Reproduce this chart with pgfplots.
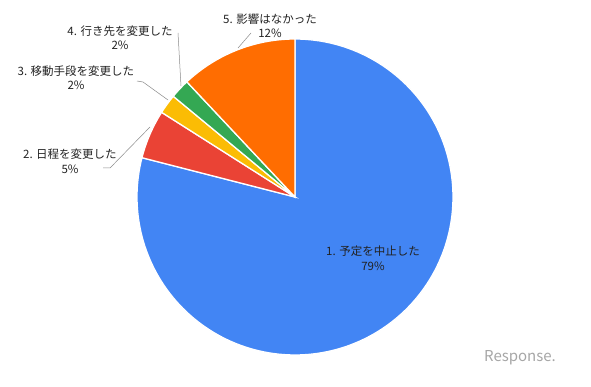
\documentclass[border=0pt]{standalone}
\usepackage{pgfplots}
\pgfplotsset{compat=1.18}
\usepackage{fontspec}
\setmainfont{Noto Sans CJK JP}
\definecolor{cblue}{HTML}{4285F4}
\definecolor{cred}{HTML}{EA4335}
\definecolor{cyellow}{HTML}{FBBC04}
\definecolor{cgreen}{HTML}{34A853}
\definecolor{corange}{HTML}{FF6D01}
\definecolor{ctext}{HTML}{222222}
\definecolor{cline}{HTML}{8A8A8A}
% shares (percent), clockwise from 12 o'clock
\def\vA{79}\def\vB{5}\def\vC{2}\def\vD{2}\def\vE{12}
\pgfmathsetmacro\aA{90}
\pgfmathsetmacro\aB{\aA-3.6*\vA}
\pgfmathsetmacro\aC{\aB-3.6*\vB}
\pgfmathsetmacro\aD{\aC-3.6*\vC}
\pgfmathsetmacro\aE{\aD-3.6*\vD}
\pgfmathsetmacro\aF{\aE-3.6*\vE}
\tikzset{lab/.style={font=\fontsize{11.5}{14.5}\selectfont, text=ctext, align=center}}
\begin{document}
\begin{tikzpicture}
\begin{axis}[
  scale only axis, width=591pt, height=386pt,
  xmin=-295, xmax=296, ymin=-189, ymax=197,
  hide axis, clip=false,
]
\pgfplotsset{slice/.style={draw=white, line width=1.3pt, samples=160, variable=\t}}
\addplot[draw=none] coordinates {(-295,-189) (296,197)};
\addplot[slice, fill=cblue, domain=\aB:\aA] ({158*cos(t)},{158*sin(t)}) -- (axis cs:0,0) -- cycle;
\addplot[slice, fill=cred, domain=\aC:\aB] ({158*cos(t)},{158*sin(t)}) -- (axis cs:0,0) -- cycle;
\addplot[slice, fill=cyellow, domain=\aD:\aC] ({158*cos(t)},{158*sin(t)}) -- (axis cs:0,0) -- cycle;
\addplot[slice, fill=cgreen, domain=\aE:\aD] ({158*cos(t)},{158*sin(t)}) -- (axis cs:0,0) -- cycle;
\addplot[slice, fill=corange, domain=\aF:\aE] ({158*cos(t)},{158*sin(t)}) -- (axis cs:0,0) -- cycle;
% leader lines
\addplot[cline, line width=0.5pt] coordinates {(-57,149) (-44,164)};
\addplot[cline, line width=0.5pt] coordinates {(-114,111) (-117,164)};
\addplot[cline, line width=0.5pt] coordinates {(-158,116) (-152,115) (-127,97)};
\addplot[cline, line width=0.5pt] coordinates {(-192,29) (-185,29) (-145,70)};
% labels
\node[lab] at (axis cs:78,-61) {1. 予定を中止した\\79\%};
\node[lab] at (axis cs:-225,36) {2. 日程を変更した\\5\%};
\node[lab] at (axis cs:-219,119.5) {3. 移動手段を変更した\\2\%};
\node[lab] at (axis cs:-175,159.5) {4. 行き先を変更した\\2\%};
\node[lab] at (axis cs:-25,171.5) {5. 影響はなかった\\12\%};
\node[font=\fontsize{15}{15}\selectfont, text=black!35] at (axis cs:225,-161) {Response.};
\end{axis}
\useasboundingbox (current axis.south west) rectangle (current axis.north east);
\end{tikzpicture}
\end{document}
